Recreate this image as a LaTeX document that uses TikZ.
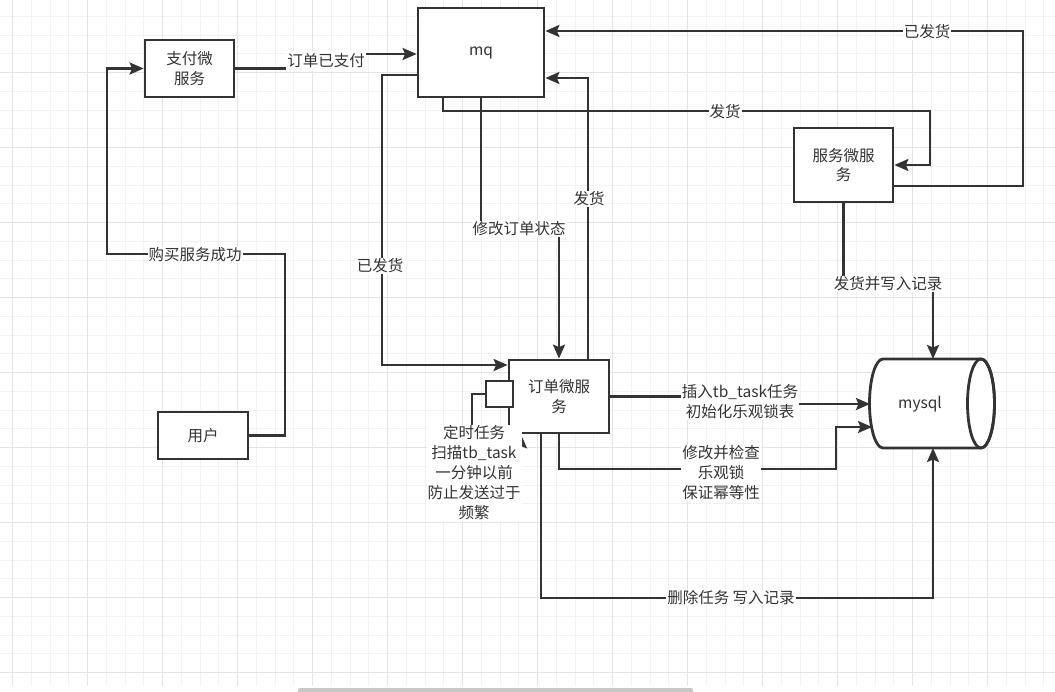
\documentclass[tikz,border=0pt]{standalone}
\usepackage{fontspec}
\setmainfont{Noto Sans CJK SC}
\usetikzlibrary{arrows.meta,calc}
\definecolor{ink}{HTML}{333333}
\definecolor{txt}{HTML}{333333}
\definecolor{gridminor}{HTML}{F2F2F2}
\definecolor{gridmajor}{HTML}{E4E4E4}
\definecolor{scroll}{HTML}{C8C8C8}
\begin{document}
\begin{tikzpicture}[x=1pt,y=-1pt,
  box/.style={draw=ink, line width=2.8pt, fill=white, text=txt, inner sep=0pt,
    align=center, font=\fontsize{15.5}{19.5}\selectfont},
  flow/.style={draw=ink, line width=2.5pt,
    -{Stealth[length=14pt,width=12pt,inset=2.5pt]}},
  lbl/.style={fill=white, text=txt, inner sep=1pt, align=center,
    font=\fontsize{15.5}{20}\selectfont}]
\useasboundingbox (0,0) rectangle (1055,691);
\fill[white] (0,0) rectangle (1055,691);

% background grid
\foreach \k in {0,...,55}
  \draw[gridminor, line width=1pt] ({12.5+18.75*\k},0) -- ({12.5+18.75*\k},686);
\foreach \k in {0,...,35}
  \draw[gridminor, line width=1pt] (0,{16.45+18.75*\k}) -- (1055,{16.45+18.75*\k});
\foreach \k in {0,4,...,52}
  \draw[gridmajor, line width=1pt] ({12.5+18.75*\k},0) -- ({12.5+18.75*\k},686);
\foreach \k in {3,7,...,35}
  \draw[gridmajor, line width=1pt] (0,{16.45+18.75*\k}) -- (1055,{16.45+18.75*\k});
\fill[scroll, rounded corners=1.5pt] (298,688) rectangle (693,693);

% services
\node[box, minimum width=89pt, minimum height=57pt] (pay) at (189.5,68.5) {支付微\\服务};
\node[box, minimum width=126pt, minimum height=89pt] (mq) at (481,52.5) {mq};
\node[box, minimum width=99pt, minimum height=74pt] (svc) at (843.5,165) {服务微服\\务};
\node[box, minimum width=100pt, minimum height=73pt] (order) at (559,396.5) {订单微服\\务};
\node[box, minimum width=90pt, minimum height=47pt] (user) at (203,435.5) {用户};
\node[box, minimum width=27pt, minimum height=26pt] (sq) at (499.5,394) {};

% database cylinder
\draw[ink, line width=2.8pt, fill=white]
  (883,359) -- (981,359) arc[start angle=90, end angle=-90, x radius=13.5pt, y radius=44.5pt]
  -- (883,448) arc[start angle=270, end angle=90, x radius=13.5pt, y radius=44.5pt] -- cycle;
\draw[ink, line width=2.8pt] (981,403.5) ellipse[x radius=13.5pt, y radius=44.5pt];
\node[text=txt, font=\fontsize{15.5}{19.5}\selectfont] (db) at (920,404) {mysql};
\coordinate (dbtop) at (933,359);
\coordinate (dbbot) at (933,448);
\coordinate (dbw1) at (870,404);
\coordinate (dbw2) at (872,427);

% connectors
\draw[flow] (pay.east) -- (326,68.5) -- (326,54) -- ([yshift=-1.5pt]mq.west);
\draw[flow] (user.east) -- (285,435.5) -- (285,254) -- (107,254) |- (pay.west);
\draw[flow] ([yshift=-22.5pt]mq.west) -- (382,75) -- (382,365) -- ([yshift=31.5pt]order.west);
\draw[flow] ([xshift=-38pt]mq.south) -- (443,111) -- (930,111) -- (930,165) -- (svc.east);
\draw[flow] (mq.south) -- (481,229) -- (559,229) -- (order.north);
\draw[flow] ([xshift=29pt]order.north) -- (588,78) -- ([yshift=-25.5pt]mq.east);
\draw[flow] ([yshift=-21pt]svc.east) -- (1023,186) -- (1023,31) -- ([yshift=21.5pt]mq.east);
\draw[flow] (svc.south) -- (843.5,283) -- (933,283) -- (dbtop);
\draw[flow] (order.east) -- (740,396.5) -- (740,404) -- (dbw1);
\draw[flow] (order.south) -- (559,469) -- (836,469) -- (836,427) -- (dbw2);
\draw[flow] ([xshift=-18pt]order.south) -- (541,598) -- (933,598) -- (dbbot);
\draw[flow] (sq.west) -- (472,394) -- (472,473) -- (521,473) -- ([xshift=-38pt]order.south);

% connector labels
\node[lbl, inner ysep=3pt] (t1) at (326,61) {订单已支付};
\node[lbl] (t2) at (195,255) {购买服务成功};
\node[lbl] (t3) at (380,266) {已发货};
\node[lbl] (t4) at (725,112) {发货};
\node[lbl] (t5) at (519,229) {修改订单状态};
\node[lbl] (t6) at (589,199) {发货};
\node[lbl] (t7) at (927,32) {已发货};
\node[lbl] (t8) at (888,284) {发货并写入记录};
\node[lbl] (t9) at (740,402) {插入tb\_task任务\\初始化乐观锁表};
\node[lbl] (t10) at (721,473) {修改并检查\\乐观锁\\保证幂等性};
\node[lbl] (t11) at (731,598) {删除任务 写入记录};
\node[lbl] (t12) at (474,473) {定时任务\\扫描tb\_task\\一分钟以前\\防止发送过于\\频繁};
\end{tikzpicture}
\end{document}
